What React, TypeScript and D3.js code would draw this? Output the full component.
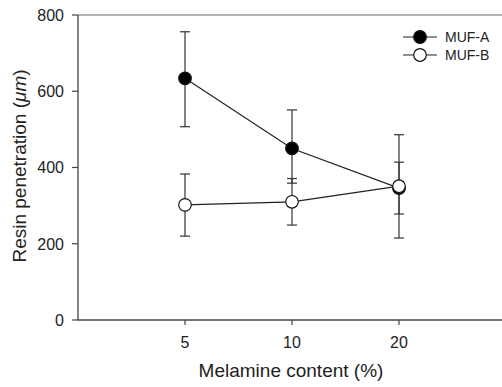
import React from "react";
import * as d3 from "d3";

const categories = ["5", "10", "20"];
const seriesNames = ["MUF-A", "MUF-B"];
const mufA = [634, 450, 346];
const mufAUpper = [756, 551, 486];
const mufALower = [507, 359, 215];
const mufB = [302, 310, 351];
const mufBUpper = [383, 371, 414];
const mufBLower = [220, 249, 278];
const yTicks = [0, 200, 400, 600, 800];

const W = 502, H = 387;
const left = 78, right = 506, top = 15, bottom = 320;

export default function App() {
  const x = d3.scalePoint<string>().domain(["", ...categories, " "]).range([left, right]);
  const y = d3.scaleLinear().domain([0, 800]).range([bottom, top]);
  const series = [
    { name: seriesNames[0], v: mufA, hi: mufAUpper, lo: mufALower, fill: "#000" },
    { name: seriesNames[1], v: mufB, hi: mufBUpper, lo: mufBLower, fill: "#fff" },
  ];
  const line = d3.line<number>().x((_, i) => x(categories[i])!).y((d) => y(d));
  const font = "Arial, 'Liberation Sans', sans-serif";
  const cap = 5;
  return (
    <svg width={W} height={H} style={{ position: "fixed", left: 0, top: 0 }} fontFamily={font}>
      <rect width={W} height={H} fill="#fff" />
      {/* frame */}
      <line x1={left} x2={W} y1={top} y2={top} stroke="#999" strokeWidth={1.5} />
      <line x1={left} x2={left} y1={top} y2={bottom} stroke="#444" strokeWidth={1.3} />
      <line x1={left} x2={W} y1={bottom} y2={bottom} stroke="#444" strokeWidth={1.3} />
      {yTicks.map((t) => (
        <g key={t}>
          <line x1={left - 6} x2={left} y1={y(t)} y2={y(t)} stroke="#444" strokeWidth={1.2} />
          <text x={left - 14} y={y(t)} dy="0.36em" textAnchor="end" fontSize={16} fill="#222">{t}</text>
        </g>
      ))}
      {categories.map((c) => (
        <g key={c}>
          <line x1={x(c)} x2={x(c)} y1={bottom} y2={bottom + 5} stroke="#444" strokeWidth={1.2} />
          <text x={x(c)} y={348} textAnchor="middle" fontSize={16} fill="#222">{c}</text>
        </g>
      ))}
      <text x={291} y={377} textAnchor="middle" fontSize={19} fill="#222">Melamine content (%)</text>
      <text transform={`translate(26,${166}) rotate(-90)`} textAnchor="middle" fontSize={19} fill="#222">
        Resin penetration (<tspan fontStyle="italic">μm</tspan>)
      </text>
      {series.map((s) => (
        <path key={s.name} d={line(s.v)!} fill="none" stroke="#222" strokeWidth={1.2} />
      ))}
      {series.map((s) =>
        s.v.map((_, i) => {
          const cx = x(categories[i])!;
          return (
            <g key={s.name + i} stroke="#333" strokeWidth={1.2}>
              <line x1={cx} x2={cx} y1={y(s.hi[i])} y2={y(s.lo[i])} />
              <line x1={cx - cap} x2={cx + cap} y1={y(s.hi[i])} y2={y(s.hi[i])} />
              <line x1={cx - cap} x2={cx + cap} y1={y(s.lo[i])} y2={y(s.lo[i])} />
            </g>
          );
        })
      )}
      {series.map((s) =>
        s.v.map((d, i) => (
          <circle key={s.name + "c" + i} cx={x(categories[i])} cy={y(d)} r={6.3} fill={s.fill} stroke="#111" strokeWidth={1.2} />
        ))
      )}
      {series.map((s, i) => {
        const ly = 37 + i * 18;
        return (
          <g key={s.name + "leg"}>
            <line x1={403} x2={437} y1={ly} y2={ly} stroke="#222" strokeWidth={1.2} />
            <circle cx={420} cy={ly} r={6.3} fill={s.fill} stroke="#111" strokeWidth={1.2} />
            <text x={445} y={ly} dy="0.36em" fontSize={14} fill="#222">{s.name}</text>
          </g>
        );
      })}
    </svg>
  );
}
